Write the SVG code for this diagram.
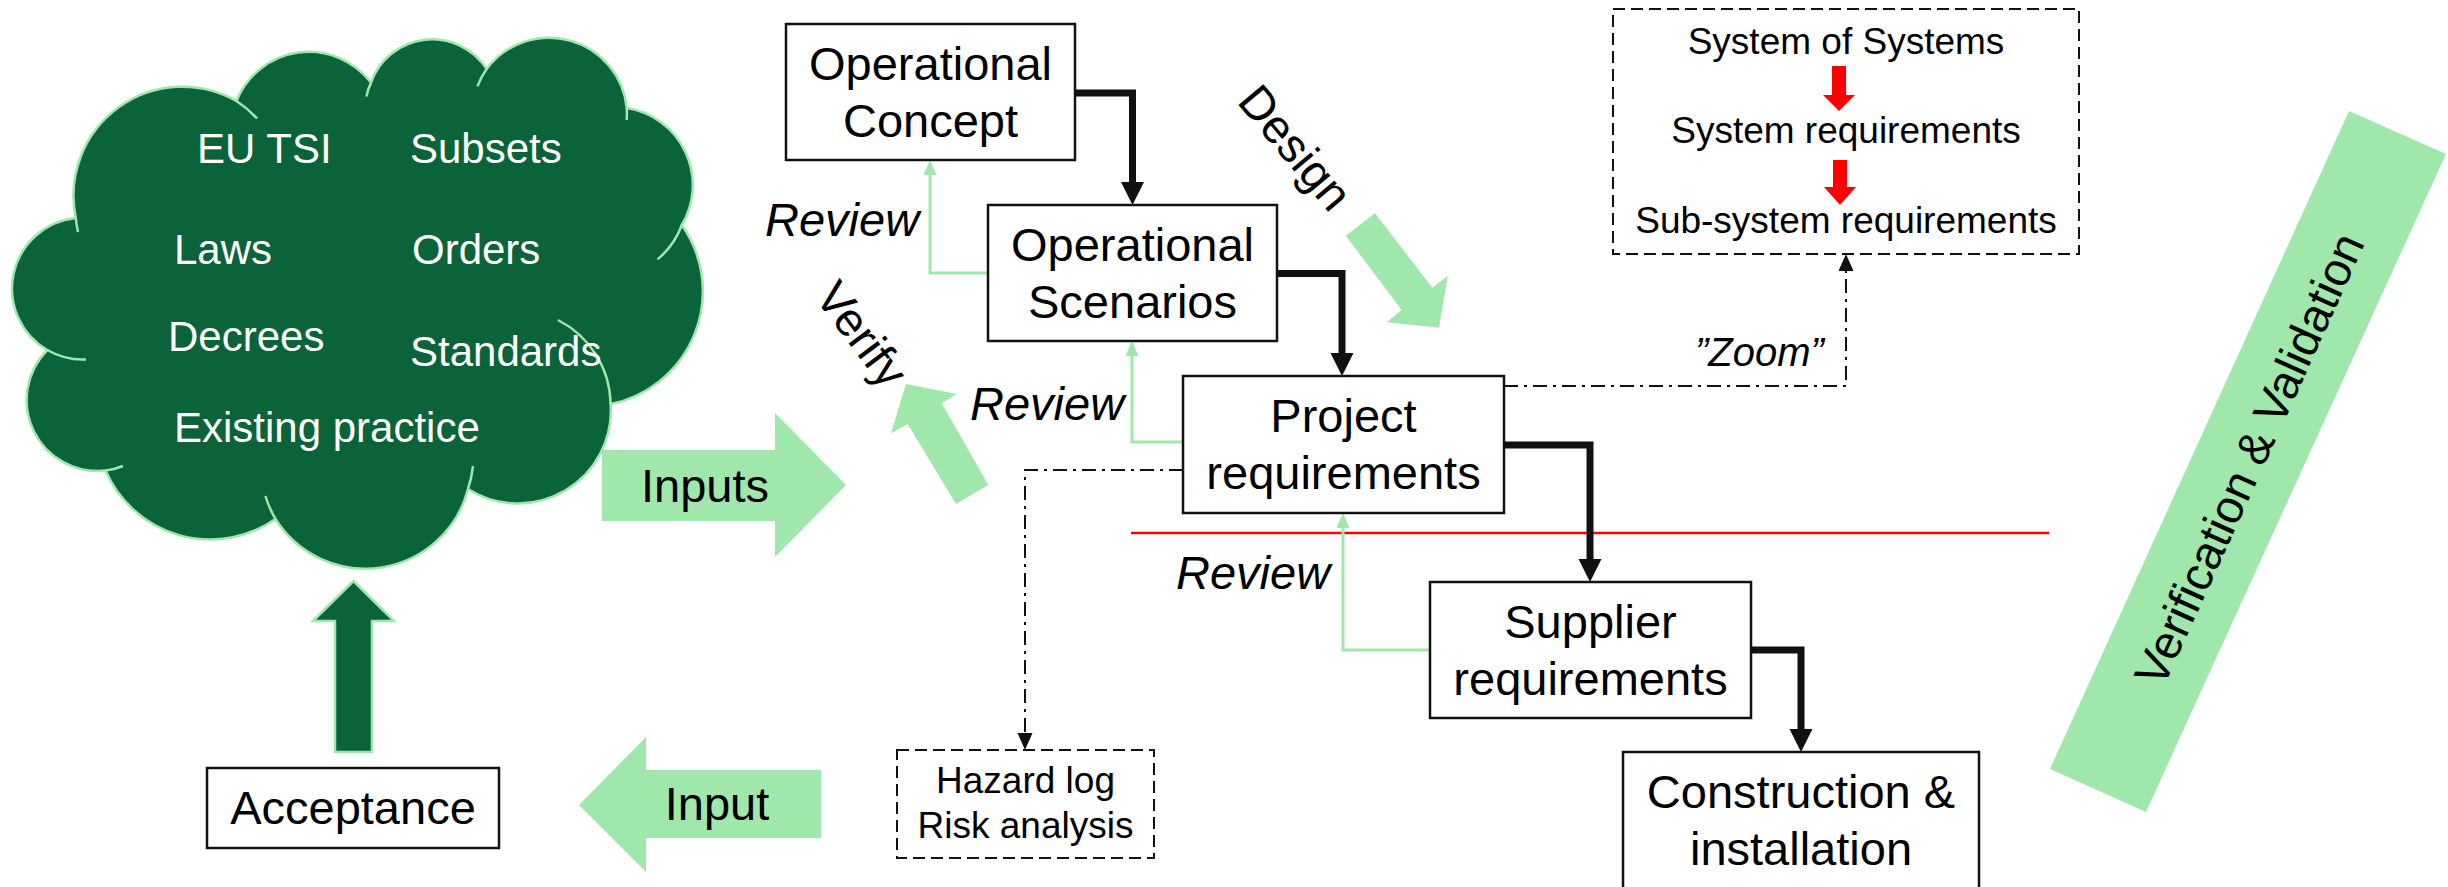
<svg xmlns="http://www.w3.org/2000/svg" width="2448" height="887" viewBox="0 0 2448 887">
<defs>
<style>
text{font-family:"Liberation Sans",Arial,sans-serif;fill:#000}
.box{fill:#fff;stroke:#111;stroke-width:2.5}
.dbox{fill:#fff;stroke:#111;stroke-width:2;stroke-dasharray:12 6}
.bt{font-size:47px;text-anchor:middle}
.ct{font-size:42px;fill:#fff}
.st{font-size:37px;text-anchor:middle}
.rv{font-size:47px;font-style:italic}
.lg{fill:#9fe7aa}
.thick{fill:none;stroke:#111;stroke-width:7}
.thin{fill:none;stroke:#9fe7aa;stroke-width:3}
.dd{fill:none;stroke:#111;stroke-width:2;stroke-dasharray:14 6 3 6}
</style>
<marker id="ah" markerUnits="userSpaceOnUse" markerWidth="24" markerHeight="24" refX="0" refY="11.5" orient="auto"><path d="M0,0 L23,11.5 L0,23 Z" fill="#111"/></marker>
<marker id="gh" markerUnits="userSpaceOnUse" markerWidth="16" markerHeight="14" refX="0" refY="6.5" orient="auto"><path d="M0,0 L15,6.5 L0,13 Z" fill="#9fe7aa"/></marker>
<marker id="kh" markerUnits="userSpaceOnUse" markerWidth="18" markerHeight="16" refX="0" refY="7.5" orient="auto"><path d="M0,0 L17,7.5 L0,15 Z" fill="#111"/></marker>
</defs>
<rect width="2448" height="887" fill="#fff"/>

<g id="cloud">
<path d="M75.8,218 A109 109 0 0 1 236.5,101 A78 78 0 0 1 371,82.6 A65 65 0 0 1 486.7,68.9 A78 78 0 0 1 626.7,108 A78 78 0 0 1 681.8,225 A115 115 0 0 1 610.6,404 A93 93 0 0 1 468,489 A106 106 0 0 1 275.5,519 A114 114 0 0 1 105.6,470.6 A71 71 0 0 1 47.3,350 A71 71 0 0 1 75.8,218 Z" fill="#0b6339" stroke="#9fe7aa" stroke-width="2.5"/>
<g fill="none" stroke="#9fe7aa" stroke-width="2.5">
<path d="M47.3,350 A71 71 0 0 0 86,359.5"/>
<path d="M75.8,218 A109 109 0 0 0 78,232"/>
<path d="M236.5,101 A109 109 0 0 1 257,118.5"/>
<path d="M371,82.6 A65 65 0 0 0 366.4,96.4"/>
<path d="M486.7,68.9 A78 78 0 0 0 477.5,86.3"/>
<path d="M626.7,108 A78 78 0 0 1 626.7,120"/>
<path d="M681.8,225 A80 80 0 0 1 657.5,259.4"/>
<path d="M610.6,404 A96 96 0 0 0 557.9,320"/>
<path d="M468,489 A106 106 0 0 0 473,466"/>
<path d="M275.5,519 A106 106 0 0 1 265.4,496"/>
<path d="M105.6,470.6 A71 71 0 0 0 123,466"/>
</g>
<text class="ct" x="197" y="163">EU TSI</text>
<text class="ct" x="410" y="163">Subsets</text>
<text class="ct" x="174" y="264">Laws</text>
<text class="ct" x="412" y="264">Orders</text>
<text class="ct" x="168" y="351">Decrees</text>
<text class="ct" x="410" y="366">Standards</text>
<text class="ct" x="174" y="442">Existing practice</text>
</g>

<g id="acceptance-arrow">
<polygon points="335,752 335,621 313,621 353.5,581 394,621 372,621 372,752" fill="#0b6339" stroke="#9fe7aa" stroke-width="2.5"/>
</g>

<g id="acceptance">
<rect class="box" x="207" y="768" width="292" height="80"/>
<text class="bt" x="353" y="824">Acceptance</text>
</g>

<g id="inputs-arrow">
<polygon class="lg" points="602,450 775,450 775,413 846,485 775,557 775,521 602,521"/>
<text x="705" y="502" font-size="47" text-anchor="middle">Inputs</text>
</g>

<g id="input-arrow">
<polygon class="lg" points="821,770 646,770 646,737 579,805 646,872 646,838 821,838"/>
<text x="717" y="820" font-size="47" text-anchor="middle">Input</text>
</g>

<g id="verify">
<polygon class="lg" points="906,384 956.7,394 941.7,403.3 988.3,485 956,504 907.7,424 891,433.3"/>
<text x="849" y="344" font-size="47" text-anchor="middle" transform="rotate(53 849 344)">Verify</text>
</g>

<g id="design">
<polygon class="lg" points="1345.7,235.7 1375,213.3 1432.3,287.7 1447.7,276 1439,327.7 1386.7,322.3 1401.7,310"/>
<text x="1283" y="158" font-size="47" text-anchor="middle" transform="rotate(50 1283 158)">Design</text>
</g>

<g id="vv">
<polygon class="lg" points="2349,111 2446,154 2146,812 2050,769"/>
<text x="2264" y="466" font-size="47" text-anchor="middle" transform="rotate(-65.6 2264 466)">Verification &amp; Validation</text>
</g>

<g id="red-line">
<path d="M1131,533 H2049" stroke="#ff0000" stroke-width="2.5" fill="none"/>
</g>

<g id="connectors">
<path class="thick" d="M1075,93 H1132.5 V182" marker-end="url(#ah)"/>
<path class="thick" d="M1277,273.5 H1342 V353" marker-end="url(#ah)"/>
<path class="thick" d="M1504,445 H1590 V559" marker-end="url(#ah)"/>
<path class="thick" d="M1751,650 H1801 V729" marker-end="url(#ah)"/>
<path class="thin" d="M988,273 H930 V175" marker-end="url(#gh)"/>
<path class="thin" d="M1183,442 H1132 V356" marker-end="url(#gh)"/>
<path class="thin" d="M1430,650 H1343 V528" marker-end="url(#gh)"/>
<path class="dd" d="M1504,386 H1846 V271" marker-end="url(#kh)"/>
<path class="dd" d="M1183,470 H1025 V733" marker-end="url(#kh)"/>
</g>

<g id="review-labels">
<text class="rv" x="765" y="236">Review</text>
<text class="rv" x="970" y="420">Review</text>
<text class="rv" x="1176" y="589">Review</text>
<text x="1695" y="366" font-size="40" font-style="italic">”Zoom”</text>
</g>

<g id="operational-concept">
<rect class="box" x="786" y="24" width="289" height="136"/>
<text class="bt" x="930.5" y="80">Operational</text>
<text class="bt" x="930.5" y="137">Concept</text>
</g>

<g id="operational-scenarios">
<rect class="box" x="988" y="205" width="289" height="136"/>
<text class="bt" x="1132.5" y="261">Operational</text>
<text class="bt" x="1132.5" y="318">Scenarios</text>
</g>

<g id="project-requirements">
<rect class="box" x="1183" y="376" width="321" height="137"/>
<text class="bt" x="1343.5" y="432">Project</text>
<text class="bt" x="1343.5" y="489">requirements</text>
</g>

<g id="supplier-requirements">
<rect class="box" x="1430" y="582" width="321" height="136"/>
<text class="bt" x="1590.5" y="638">Supplier</text>
<text class="bt" x="1590.5" y="695">requirements</text>
</g>

<g id="construction">
<rect class="box" x="1623" y="752" width="356" height="145"/>
<text class="bt" x="1801" y="808">Construction &amp;</text>
<text class="bt" x="1801" y="865">installation</text>
</g>

<g id="hazard">
<rect class="dbox" x="897" y="750" width="257" height="108"/>
<text class="st" x="1025.5" y="793">Hazard log</text>
<text class="st" x="1025.5" y="838">Risk analysis</text>
</g>

<g id="system-of-systems">
<rect class="dbox" x="1613" y="9" width="466" height="245"/>
<text class="st" x="1846" y="54">System of Systems</text>
<polygon points="1832,66 1846,66 1846,95 1855,95 1839,111 1823,95 1832,95" fill="#ff0000"/>
<text class="st" x="1846" y="143">System requirements</text>
<polygon points="1833,160 1847,160 1847,187 1856,187 1840,205 1824,187 1833,187" fill="#ff0000"/>
<text class="st" x="1846" y="233">Sub-system requirements</text>
</g>
</svg>
